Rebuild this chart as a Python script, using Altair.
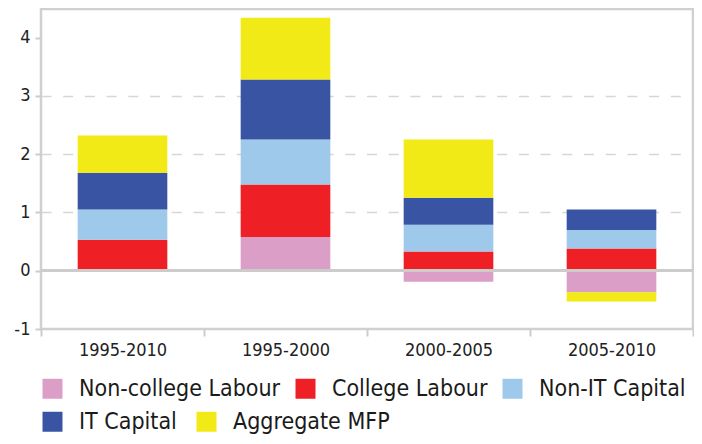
import altair as alt
import pandas as pd

periods = ["1995-2010", "1995-2000", "2000-2005", "2005-2010"]
components = ["Non-college Labour", "College Labour", "Non-IT Capital", "IT Capital", "Aggregate MFP"]
colors = ["#DB9EC7", "#EE1F25", "#9FC9EA", "#3A54A4", "#F2EA16"]

noncollege = [0.0, 0.58, -0.19, -0.37]
college = [0.53, 0.90, 0.33, 0.38]
non_it = [0.52, 0.77, 0.46, 0.32]
it_cap = [0.63, 1.03, 0.46, 0.35]
mfp = [0.64, 1.06, 1.00, -0.16]

y_ticks = [-1, 0, 1, 2, 3, 4]

series = [noncollege, college, non_it, it_cap, mfp]
rows = []
for ci, (name, vals) in enumerate(zip(components, series)):
    for p, v in zip(periods, vals):
        rows.append({"period": p, "component": name, "value": v, "order": ci})
df = pd.DataFrame(rows)

FONT = "DejaVu Sans Condensed"
row1 = components[:3]
row2 = components[3:]


def legend(y, colpad):
    return alt.Legend(title=None, orient="none", legendX=0, legendY=y,
                      direction="horizontal", symbolType="square", symbolSize=400,
                      symbolStrokeWidth=0, labelFontSize=23, labelFont=FONT,
                      labelColor="#1a1a1a", labelOffset=15, columnPadding=colpad,
                      padding=0, labelLimit=400)


x_enc = alt.X("period:N", sort=periods, title=None,
              scale=alt.Scale(paddingInner=0, paddingOuter=0),
              axis=alt.Axis(labelAngle=0, tickBand="extent", labelFontSize=18, labelFont=FONT,
                            labelColor="#222222", labelPadding=5, tickSize=7, tickWidth=2,
                            tickColor="#cccccc", domain=False, grid=False))
y_enc = alt.Y("y0:Q", title=None,
              scale=alt.Scale(domain=[-1, 4.49], nice=False, zero=False),
              axis=alt.Axis(values=y_ticks, labelExpr="'' + datum.value", labelFontSize=18,
                            labelFont=FONT, labelColor="#222222", labelPadding=5,
                            tickSize=6, tickWidth=2, tickColor="#cccccc", domain=False,
                            grid=True, gridColor="#d6d6d6", gridWidth=1.5, gridDash=[10, 11.7],
                            gridOpacity={"condition": {"test": "datum.value >= 1 && datum.value <= 3", "value": 1}, "value": 0}))

base = alt.Chart(df).transform_stack(
    stack="value", groupby=["period"], as_=["y0", "y1"],
    sort=[alt.SortField("order", order="ascending")], offset="zero",
)

bars1 = base.transform_filter(alt.FieldOneOfPredicate(field="component", oneOf=row1)).mark_bar(
    width=alt.RelativeBandSize(0.55)
).encode(
    x=x_enc, y=y_enc, y2="y1:Q",
    color=alt.Color("component:N", scale=alt.Scale(domain=row1, range=colors[:3]), legend=legend(368, 13)),
)

bars2 = base.transform_filter(alt.FieldOneOfPredicate(field="component", oneOf=row2)).mark_bar(
    width=alt.RelativeBandSize(0.55)
).encode(
    x=x_enc, y=y_enc, y2="y1:Q",
    fill=alt.Fill("component:N", scale=alt.Scale(domain=row2, range=colors[3:]), legend=legend(401, 18)),
)

zero = alt.Chart(df).mark_rule(color="#cccccc", strokeWidth=2.5).encode(y=alt.datum(0))

chart = alt.layer(bars1, bars2, zero).properties(
    width=652, height=320,
    autosize=alt.AutoSizeParams(type="none"),
    padding={"left": 33, "top": 1, "right": 1, "bottom": 107},
).configure_view(stroke="#d0d0d0", strokeWidth=2.5)

chart.save("out.html", embed_options={"renderer": "svg", "actions": False})
